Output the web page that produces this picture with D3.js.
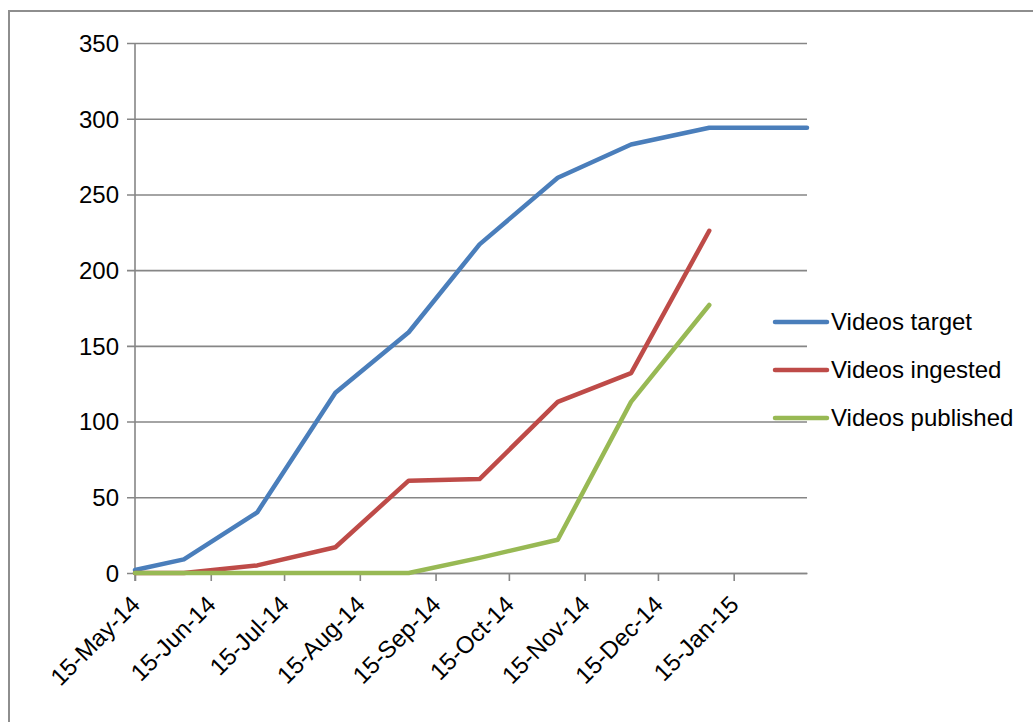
<!DOCTYPE html>
<html>
<head>
<meta charset="utf-8">
<script src="https://cdn.jsdelivr.net/npm/d3@7"></script>
<style>
  html, body { margin: 0; padding: 0; background: #fff; }
  svg { display: block; }
  text { font-family: "Liberation Sans", Arial, sans-serif; fill: #000; }
</style>
</head>
<body>
<svg id="chart" width="1033" height="722"></svg>
<script>
// ---- data ----
const dates = ["2014-05-15", "2014-06-04", "2014-07-04", "2014-08-05", "2014-09-04",
               "2014-10-03", "2014-11-04", "2014-12-04", "2015-01-05", "2015-02-14"];
const videosTarget    = [2, 9, 40, 119, 159, 217, 261, 283, 294, 294];
const videosIngested  = [0, 0, 5, 17, 61, 62, 113, 132, 226, null];
const videosPublished = [0, 0, 0, 0, 0, 10, 22, 113, 177, null];
const seriesNames = ["Videos target", "Videos ingested", "Videos published"];
const seriesColors = ["#4A7EBB", "#BE4B48", "#98B954"];
const xTickLabels = ["15-May-14", "15-Jun-14", "15-Jul-14", "15-Aug-14", "15-Sep-14",
                     "15-Oct-14", "15-Nov-14", "15-Dec-14", "15-Jan-15"];
const yTicks = [0, 50, 100, 150, 200, 250, 300, 350];

// ---- layout ----
const svg = d3.select("#chart");
const mLeft = 135, mRight = 807, mTop = 43, mBottom = 573;
const parseISO = d3.timeParse("%Y-%m-%d");
const parseLbl = d3.timeParse("%d-%b-%y");
const xDates = dates.map(parseISO);
const x = d3.scaleTime().domain([xDates[0], xDates[xDates.length - 1]]).range([mLeft, mRight]);
const y = d3.scaleLinear().domain([0, 350]).range([mBottom, mTop]);
const gridColor = "#868686";

// outer chart border
svg.append("rect").attr("x", 9).attr("y", 11).attr("width", 1100).attr("height", 800)
  .attr("fill", "none").attr("stroke", "#8e8e8e").attr("stroke-width", 2);

// gridlines + y axis
const yAxis = d3.axisLeft(y).tickValues(yTicks).tickSize(-(mRight - mLeft)).tickSizeOuter(0).tickPadding(16);
const gy = svg.append("g").attr("transform", `translate(${mLeft},0)`).call(yAxis);
gy.select(".domain").remove();
gy.selectAll(".tick line").attr("stroke", gridColor).attr("stroke-width", 1.6).attr("x1", -8);
gy.selectAll(".tick text").attr("font-size", 24).attr("dy", "0.35em").style("font-family", "Liberation Sans, Arial, sans-serif");

// vertical axis line
svg.append("line").attr("x1", mLeft).attr("x2", mLeft).attr("y1", mTop).attr("y2", mBottom + 8)
  .attr("stroke", gridColor).attr("stroke-width", 1.6);

// x axis
const xTickDates = xTickLabels.map(parseLbl);
const xAxis = d3.axisBottom(x).tickValues(xTickDates).tickSize(8).tickSizeOuter(0)
  .tickFormat((d, i) => xTickLabels[i]);
const gx = svg.append("g").attr("transform", `translate(0,${mBottom})`).call(xAxis);
gx.select(".domain").attr("stroke", gridColor).attr("stroke-width", 1.6);
gx.selectAll(".tick line").attr("stroke", gridColor).attr("stroke-width", 1.6);
gx.selectAll(".tick text")
  .attr("font-size", 24)
  .style("font-family", "Liberation Sans, Arial, sans-serif")
  .attr("text-anchor", "end")
  .attr("x", 0).attr("y", 0).attr("dy", 0)
  .attr("transform", "translate(6,33) rotate(-45)");

// lines
const allSeries = [videosTarget, videosIngested, videosPublished];
const line = d3.line()
  .defined(d => d.v !== null)
  .x(d => x(d.date)).y(d => y(d.v));
allSeries.forEach((vals, si) => {
  const pts = vals.map((v, i) => ({date: xDates[i], v}));
  svg.append("path").datum(pts)
    .attr("d", line)
    .attr("fill", "none")
    .attr("stroke", seriesColors[si])
    .attr("stroke-width", 4.5)
    .attr("stroke-linejoin", "round")
    .attr("stroke-linecap", "round");
});

// legend
const legY = [322, 370, 418];
seriesNames.forEach((name, i) => {
  const g = svg.append("g").attr("transform", `translate(0,${legY[i]})`);
  g.append("line").attr("x1", 775).attr("x2", 827).attr("y1", 0).attr("y2", 0)
    .attr("stroke", seriesColors[i]).attr("stroke-width", 4.5).attr("stroke-linecap", "round");
  g.append("text").attr("x", 831).attr("y", 0).attr("dy", "0.35em")
    .attr("font-size", 24).text(name);
});
</script>
</body>
</html>
